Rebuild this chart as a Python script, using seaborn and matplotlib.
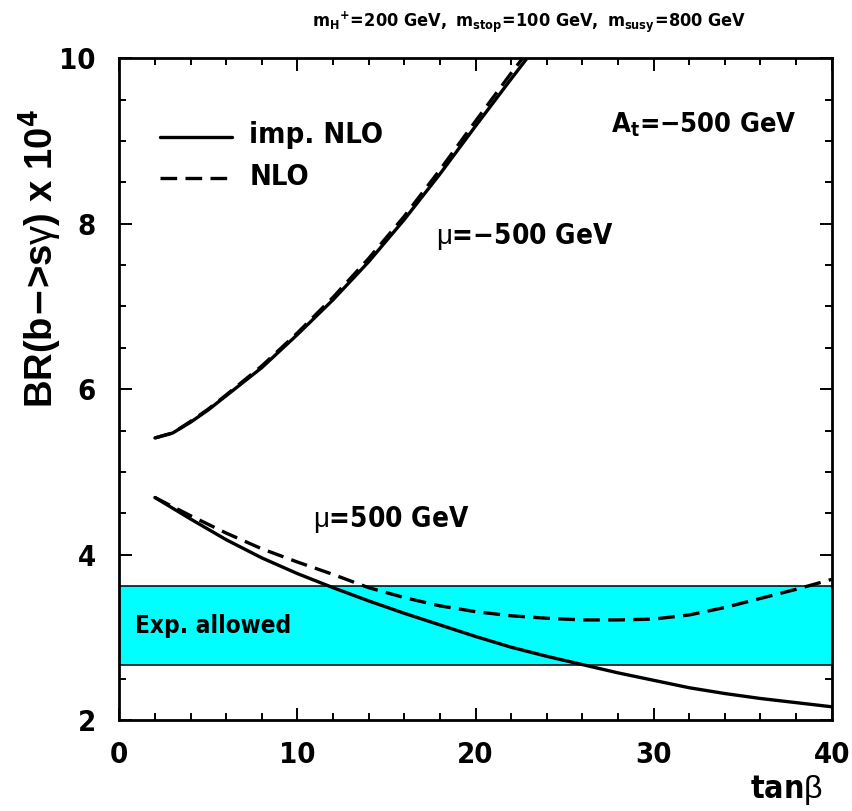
import matplotlib
matplotlib.use("Agg")
import matplotlib.pyplot as plt
from matplotlib import font_manager as fm
from matplotlib.ticker import MultipleLocator
import seaborn as sns
import pandas as pd

# ---------------- data ----------------
tanb_up = [2, 3, 4, 5, 6, 8, 10, 12, 14, 16, 18, 20, 22, 23]
up_imp = [5.41, 5.47, 5.60, 5.75, 5.92, 6.26, 6.66, 7.08, 7.54, 8.05, 8.60, 9.18, 9.75, 10.03]
up_nlo = [5.41, 5.47, 5.61, 5.76, 5.93, 6.28, 6.68, 7.11, 7.58, 8.09, 8.65, 9.24, 9.82, 10.10]

tanb_low = [2, 3, 4, 6, 8, 10, 12, 14, 16, 18, 20, 22, 24, 26, 28, 30, 32, 34, 36, 38, 40]
low_imp = [4.69, 4.56, 4.43, 4.18, 3.96, 3.77, 3.60, 3.44, 3.29, 3.15, 3.01, 2.88, 2.77,
           2.67, 2.57, 2.48, 2.39, 2.32, 2.26, 2.21, 2.16]
low_nlo = [4.69, 4.58, 4.47, 4.26, 4.07, 3.91, 3.76, 3.60, 3.48, 3.38, 3.31, 3.26, 3.23,
           3.21, 3.21, 3.22, 3.27, 3.36, 3.47, 3.58, 3.70]

band_low, band_high = 2.67, 3.62

# ---------------- style ----------------
sns.set_style("ticks")
fonts = fm.fontManager.ttflist
names = {f.name for f in fonts}
cond = [f for f in fonts if str(f.stretch) in ("condensed", "semi-condensed", "75", "87")
        and f.weight in ("bold", 700, "700")]
stretch = "normal"
if "Liberation Sans Narrow" in names:
    narrow = "Liberation Sans Narrow"
elif cond:
    pref = [f for f in cond if "DejaVu Sans" == f.name] or cond
    narrow = pref[0].name
    stretch = "condensed"
else:
    narrow = "Liberation Sans"
wide = "Liberation Sans"

plt.rcParams["font.family"] = [narrow, "DejaVu Sans"]
plt.rcParams["font.weight"] = "bold"
plt.rcParams["font.stretch"] = stretch
for k in ("text.color", "axes.labelcolor", "xtick.color", "ytick.color", "axes.edgecolor"):
    plt.rcParams[k] = "black"
plt.rcParams["mathtext.fontset"] = "custom"
bold_spec = f"{narrow}:weight=bold:stretch={stretch}"
plt.rcParams["mathtext.rm"] = bold_spec
plt.rcParams["mathtext.it"] = bold_spec
plt.rcParams["mathtext.bf"] = bold_spec
plt.rcParams["mathtext.sf"] = f"{wide}:weight=normal"

title = r"$\mathrm{m_{H}{}^{+}\!=\!200\ GeV,\ m_{stop}\!=\!100\ GeV,\ m_{susy}\!=\!800\ GeV}$"

fig = plt.figure(figsize=(8.52, 8.11), dpi=100)
ax = fig.add_axes([119.3 / 852, 1 - 720 / 811, (831.7 - 119.3) / 852, (720 - 58.3) / 811])

df_up = pd.DataFrame({"tanb": tanb_up, "imp": up_imp, "nlo": up_nlo})
df_low = pd.DataFrame({"tanb": tanb_low, "imp": low_imp, "nlo": low_nlo})

lw = 2.4
dash = (0, (5.0, 2.5))
ax.axhspan(band_low, band_high, facecolor="#00FFFF", edgecolor="none", zorder=1)
ax.axhline(band_low, color="black", lw=1.1, zorder=2)
ax.axhline(band_high, color="black", lw=1.1, zorder=2)

for d in (df_up, df_low):
    sns.lineplot(data=d, x="tanb", y="imp", ax=ax, color="black", lw=lw, zorder=3)
    sns.lineplot(data=d, x="tanb", y="nlo", ax=ax, color="black", lw=lw,
                 linestyle=dash, zorder=3)

ax.set_xlim(0, 40)
ax.set_ylim(2, 10)
ax.xaxis.set_major_locator(MultipleLocator(10))
ax.xaxis.set_minor_locator(MultipleLocator(2))
ax.yaxis.set_major_locator(MultipleLocator(2))
ax.yaxis.set_minor_locator(MultipleLocator(0.5))
ax.tick_params(which="both", direction="in", top=True, right=True, width=1.4)
ax.tick_params(which="major", length=9, labelsize=21, pad=15)
ax.tick_params(axis="y", which="major", pad=17)
ax.tick_params(which="minor", length=5)
for lab in ax.get_xticklabels() + ax.get_yticklabels():
    lab.set_fontweight("bold")
    lab.set_fontstretch(stretch)
for s in ax.spines.values():
    s.set_linewidth(2.0)
    s.set_visible(True)

ax.set_xlabel("")
ax.set_ylabel("")
fig.text(786 / 852, 1 - 790 / 811, r"tan$\mathsf{\beta}$", fontsize=23, ha="center",
         va="center", fontweight="bold")
fig.text(40 / 852, 1 - 259 / 811, r"BR(b$-$>s$\mathsf{\gamma}$) x 10$^{4}$",
         rotation=90, fontsize=27.5, ha="center", va="center", fontweight="bold",
         family=[wide, "DejaVu Sans"], fontstretch="normal")
fig.text(529 / 852, 1 - 22 / 811, title, fontsize=13, ha="center", va="center")

# legend (drawn manually)
ax.plot([2.3, 6.3], [9.05, 9.05], color="black", lw=lw, zorder=4)
ax.plot([2.3, 6.3], [8.55, 8.55], color="black", lw=lw, linestyle=dash, zorder=4)
ax.text(7.3, 9.07, "imp. NLO", fontsize=21, va="center", ha="left")
ax.text(7.3, 8.57, "NLO", fontsize=21, va="center", ha="left")

ax.text(27.6, 9.2, r"A$_{t}$=$-$500 GeV", fontsize=19.5, va="center", ha="left")
ax.text(17.8, 7.85, r"$\mathsf{\mu}$=$-$500 GeV", fontsize=20, va="center", ha="left")
ax.text(10.9, 4.42, r"$\mathsf{\mu}$=500 GeV", fontsize=20, va="center", ha="left")
ax.text(0.9, 3.14, "Exp. allowed", fontsize=17.5, va="center", ha="left")

fig.savefig("out.png", dpi=100)
